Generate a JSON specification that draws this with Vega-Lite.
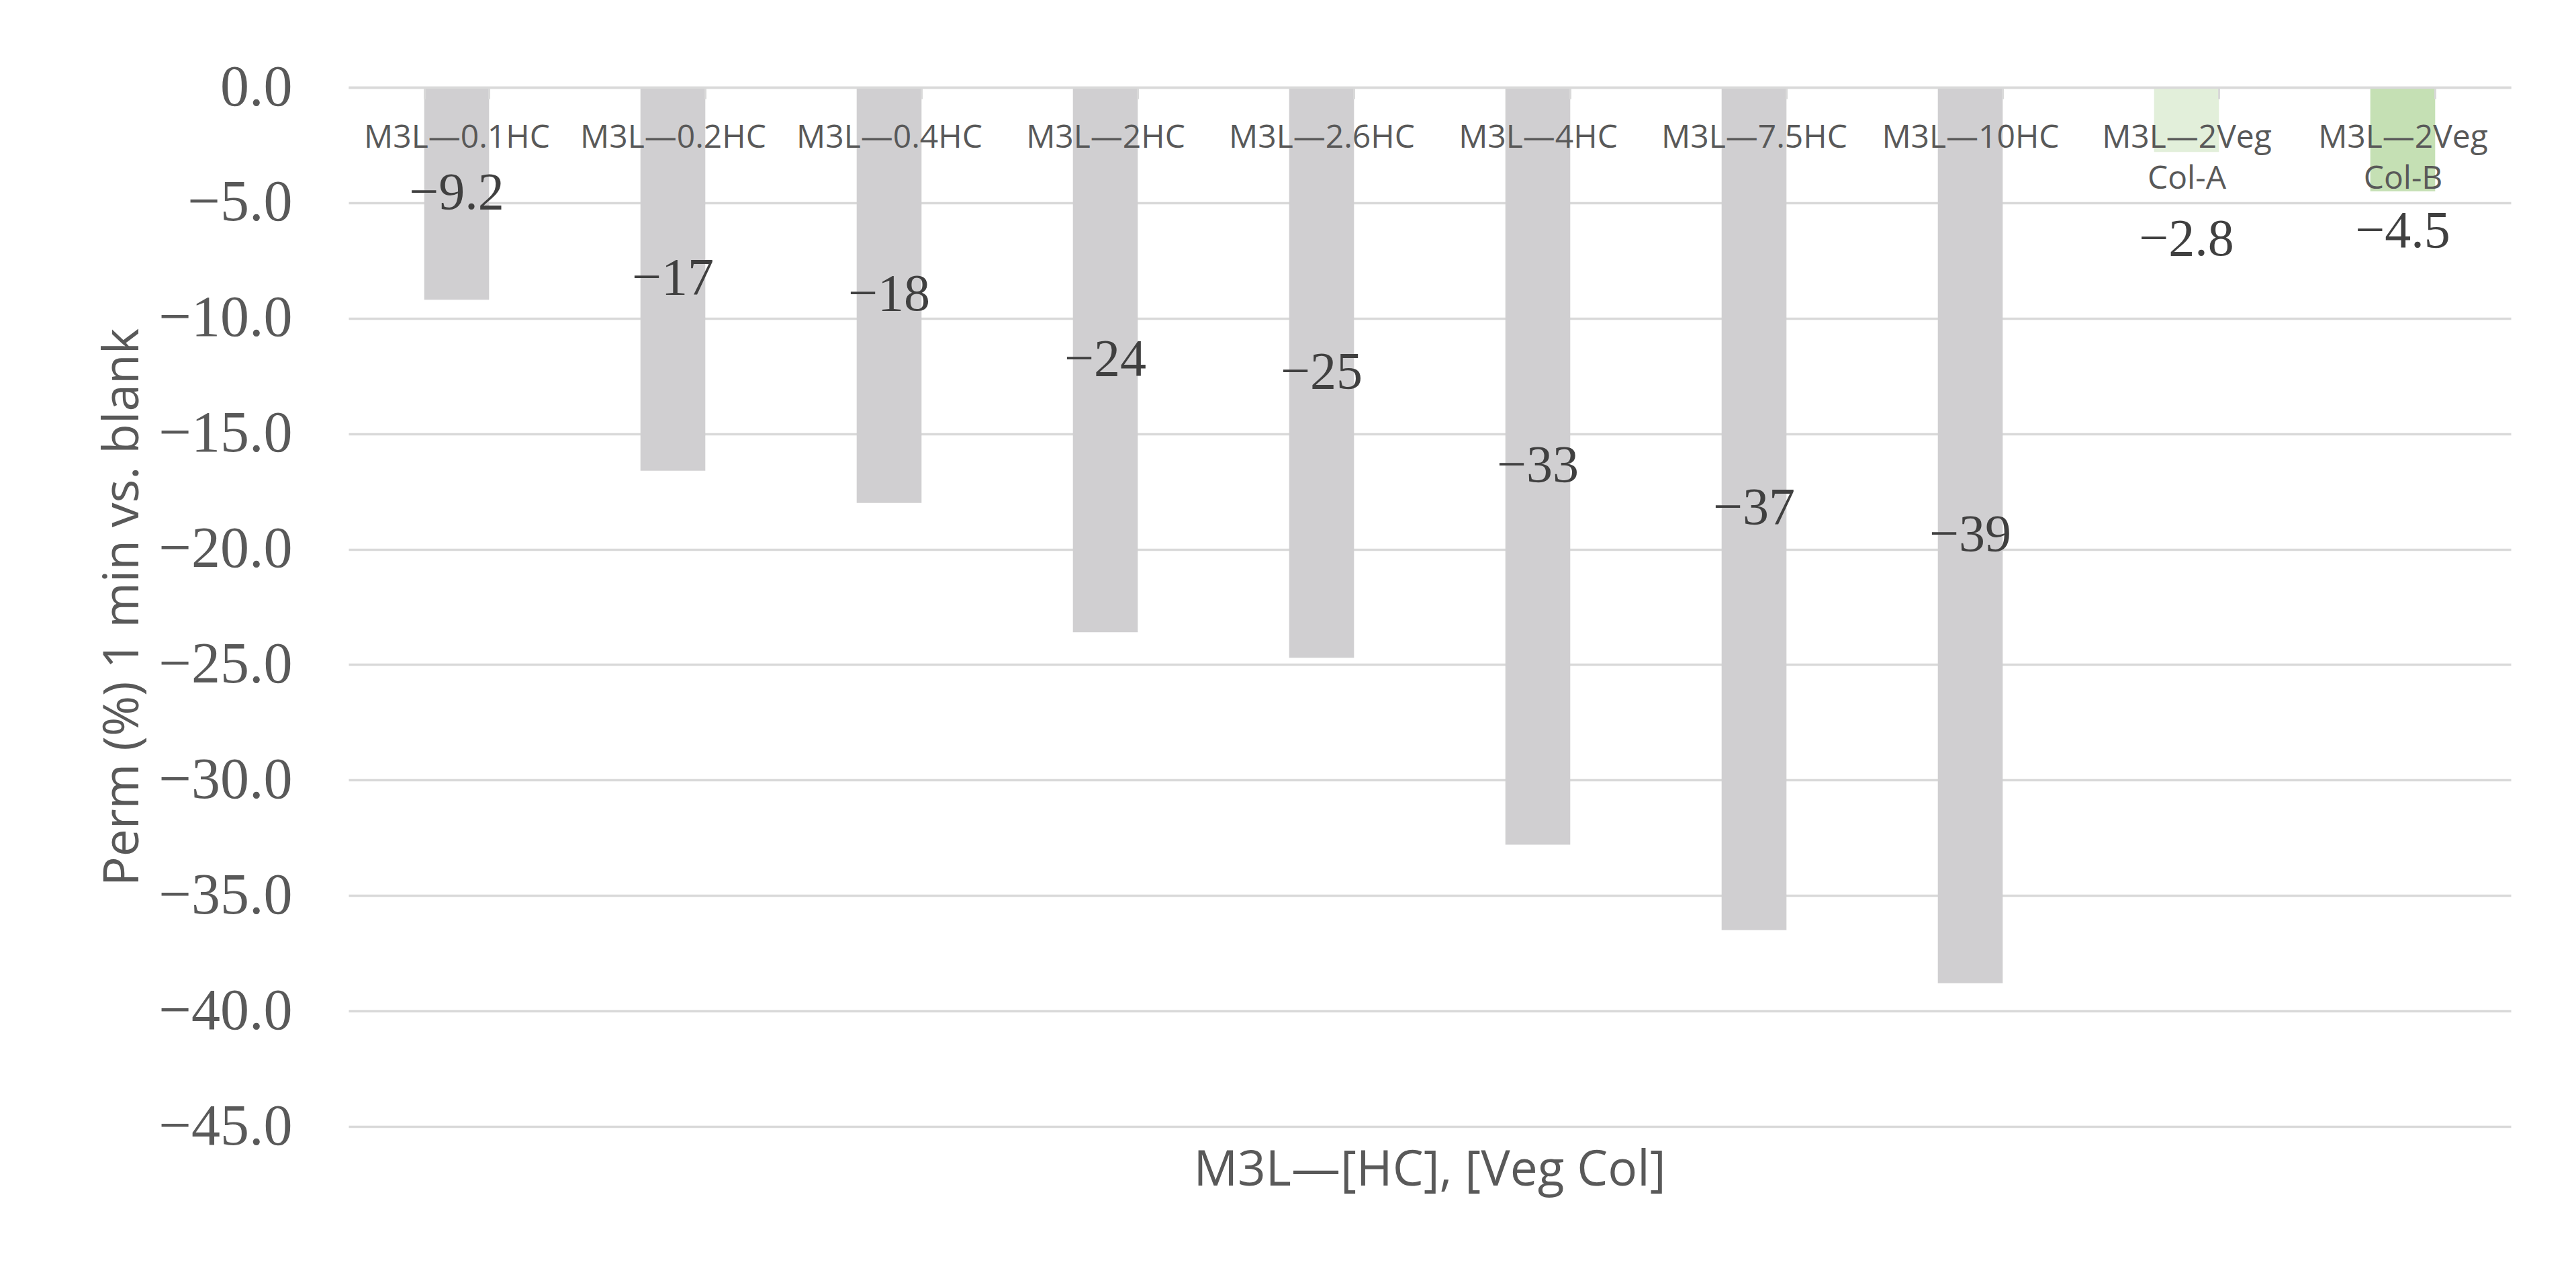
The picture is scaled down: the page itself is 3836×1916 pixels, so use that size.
{
  "$schema": "https://vega.github.io/schema/vega-lite/v6.json",
  "width": 3220,
  "height": 1547,
  "autosize": {"type": "none"},
  "padding": {"left": 519, "top": 130, "right": 97, "bottom": 239},
  "background": "white",
  "config": {"view": {"stroke": null}},
  "title": {
    "text": "M3L—[HC], [Veg Col]",
    "orient": "bottom",
    "anchor": "middle",
    "frame": "group",
    "font": "Open Sans",
    "fontSize": 73,
    "fontWeight": "normal",
    "color": "#595959",
    "offset": -13
  },
  "data": {
    "values": [
      {"condition": "M3L—0.1HC", "group": "HC", "value": -9.2, "label": "−9.2"},
      {"condition": "M3L—0.2HC", "group": "HC", "value": -16.6, "label": "−17"},
      {"condition": "M3L—0.4HC", "group": "HC", "value": -18.0, "label": "−18"},
      {"condition": "M3L—2HC", "group": "HC", "value": -23.6, "label": "−24"},
      {"condition": "M3L—2.6HC", "group": "HC", "value": -24.7, "label": "−25"},
      {"condition": "M3L—4HC", "group": "HC", "value": -32.8, "label": "−33"},
      {"condition": "M3L—7.5HC", "group": "HC", "value": -36.5, "label": "−37"},
      {"condition": "M3L—10HC", "group": "HC", "value": -38.8, "label": "−39"},
      {"condition": "M3L—2Veg Col-A", "group": "Veg Col-A", "value": -2.8, "label": "−2.8"},
      {"condition": "M3L—2Veg Col-B", "group": "Veg Col-B", "value": -4.5, "label": "−4.5"}
    ]
  },
  "layer": [
    {
      "mark": {"type": "bar"},
      "encoding": {
        "x": {
          "field": "condition",
          "type": "nominal",
          "sort": null,
          "scale": {"paddingInner": 0.7, "paddingOuter": 0.35},
          "axis": {
            "orient": "bottom",
            "offset": -1547,
            "zindex": 2,
            "title": null,
            "labelFont": "Open Sans",
            "labelFontSize": 48,
            "labelColor": "#595959",
            "labelAngle": 0,
            "labelBaseline": "top",
            "labelLineHeight": 61,
            "labelPadding": 34,
            "labelLimit": 600,
            "labelOverlap": false,
            "labelExpr": "indexof(datum.label, ' ') > 0 ? split(datum.label, ' ') : datum.label",
            "tickBand": "extent",
            "tickSize": 17,
            "tickColor": "#d9d9d9",
            "tickWidth": 3,
            "domainColor": "#d9d9d9",
            "domainWidth": 3.5,
            "grid": false
          }
        },
        "y": {
          "field": "value",
          "type": "quantitative",
          "scale": {"domain": [-45, 0], "nice": false},
          "axis": {
            "values": [0, -5, -10, -15, -20, -25, -30, -35, -40, -45],
            "format": ".1f",
            "labelFont": "Liberation Serif",
            "labelFontSize": 86,
            "labelColor": "#595959",
            "labelPadding": 84,
            "labelLimit": 600,
            "ticks": false,
            "tickSize": 0,
            "domain": false,
            "gridColor": "#d9d9d9",
            "gridWidth": 3.5,
            "title": "Perm (%) 1 min vs. blank",
            "titleFont": "Open Sans",
            "titleFontSize": 73,
            "titleFontWeight": "normal",
            "titleColor": "#595959",
            "titleX": -314,
            "titleBaseline": "alphabetic"
          }
        },
        "color": {
          "field": "group",
          "type": "nominal",
          "scale": {"domain": ["HC", "Veg Col-A", "Veg Col-B"], "range": ["#d0cfd1", "#e2efda", "#c5e0b4"]},
          "legend": null
        }
      }
    },
    {
      "transform": [{"filter": "datum.group === 'HC'"}],
      "mark": {"type": "text", "font": "Liberation Serif", "fontSize": 78, "color": "#404040", "baseline": "middle", "align": "center"},
      "encoding": {
        "x": {"field": "condition", "type": "nominal", "sort": null},
        "y": {"field": "value", "type": "quantitative", "scale": {"domain": [-90, 0], "nice": false}, "axis": null},
        "text": {"field": "label"}
      }
    },
    {
      "transform": [{"filter": "datum.group === 'Veg Col-A'"}],
      "mark": {"type": "text", "font": "Liberation Serif", "fontSize": 78, "color": "#404040", "baseline": "middle", "align": "center", "dy": 131},
      "encoding": {
        "x": {"field": "condition", "type": "nominal", "sort": null},
        "y": {"field": "value", "type": "quantitative", "scale": {"domain": [-45, 0], "nice": false}, "axis": null},
        "text": {"field": "label"}
      }
    },
    {
      "transform": [{"filter": "datum.group === 'Veg Col-B'"}],
      "mark": {"type": "text", "font": "Liberation Serif", "fontSize": 78, "color": "#404040", "baseline": "middle", "align": "center", "dy": 60},
      "encoding": {
        "x": {"field": "condition", "type": "nominal", "sort": null},
        "y": {"field": "value", "type": "quantitative", "scale": {"domain": [-45, 0], "nice": false}, "axis": null},
        "text": {"field": "label"}
      }
    }
  ],
  "resolve": {"scale": {"y": "independent"}}
}
